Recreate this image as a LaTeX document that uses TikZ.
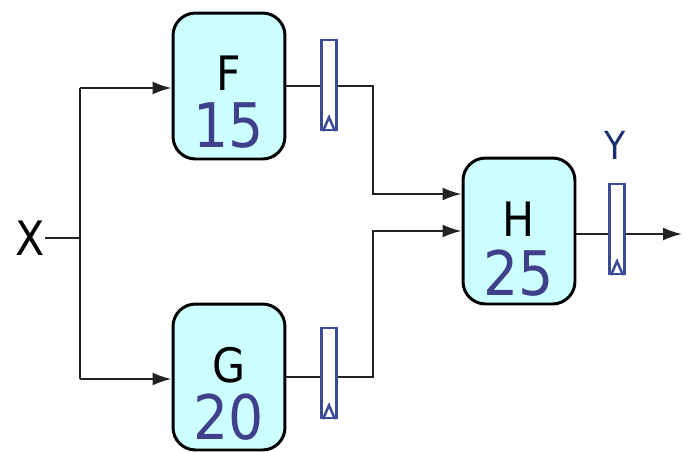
\documentclass[tikz,border=0pt]{standalone}
\usepackage{fontspec}
\setmainfont{DejaVu Sans Condensed}
\usepackage{tikz}
\usetikzlibrary{arrows.meta,positioning,calc}
\definecolor{cyanfill}{HTML}{CCFFFF}
\definecolor{slate}{HTML}{3F3F8C}
\definecolor{regblue}{HTML}{3D4A96}
\definecolor{navy}{HTML}{1C3170}
\definecolor{wire}{HTML}{222222}

\begin{document}
\begin{tikzpicture}[x=0.02cm,y=-0.02cm,
  stage/.style={draw=black,fill=cyanfill,line width=1.7pt,rounded corners=0.45cm,minimum width=2.24cm,minimum height=2.92cm,inner sep=0pt},
  stagename/.style={font=\fontsize{27}{27}\selectfont,inner sep=0pt},
  latency/.style={font=\fontsize{35}{35}\selectfont,text=slate,inner sep=0pt},
  reg/.style={draw=regblue,fill=white,line width=1.4pt,minimum width=0.3cm,minimum height=1.8cm,inner sep=0pt},
  link/.style={draw=wire,line width=1.2pt},
  arr/.style={link,-{Latex[length=3.8mm,width=2.6mm]}}]
\useasboundingbox (0,0) rectangle (683,451);
% the three stages
\node[stage] (F) at (229,86) {};
\node[stage] (G) at (229,377) {};
\node[stage] (H) at (519,231) {};
\node[stagename] (Fn) at ($(F.center)+(0,-13)$) {F};
\node[latency] (Fd) at ($(F.center)+(0,40)$) {15};
\node[stagename] (Gn) at ($(G.center)+(0,-12)$) {G};
\node[latency] (Gd) at ($(G.center)+(0,40)$) {20};
\node[stagename] (Hn) at ($(H.center)+(0,-12)$) {H};
\node[latency] (Hd) at ($(H.center)+(0,42)$) {25};
% input and fork
\node[stagename,anchor=east] (X) at (45,238) {X};
\coordinate (fork) at (80,238);
\coordinate (forkF) at (80,88);
\coordinate (forkG) at (80,379);
\draw[link] (X.east) -- (fork);
\draw[link] (forkF) -- (forkG);
\draw[arr] (forkF) -- (forkF -| F.west);
\draw[arr] (forkG) -- (forkG -| G.west);
% wires into H
\coordinate (bend) at (373,0);
\coordinate (inF) at ($(H.west)+(0,-37)$);
\coordinate (inG) at (H.west);
\draw[arr] (F.east) -- (F.east -| bend) |- (inF);
\draw[arr] (G.east) -- (G.east -| bend) |- (inG);
% output
\coordinate (out) at (682,234);
\draw[arr] (H.east |- out) -- (out);
% registers
\node[reg] (Fr) at (329,85) {};
\node[reg] (Gr) at (329,373) {};
\node[reg] (Hr) at (617,229) {};
\foreach \r in {Fr,Gr,Hr}
  \draw[regblue,line width=1.4pt,line join=miter] ($(\r.south)+(-6,0)$) -- ($(\r.south)+(0,-14)$) -- ($(\r.south)+(6,0)$);
\node[font=\fontsize{22}{22}\selectfont,text=navy,inner sep=0pt] (Y) at (615,145) {Y};
\end{tikzpicture}
\end{document}
